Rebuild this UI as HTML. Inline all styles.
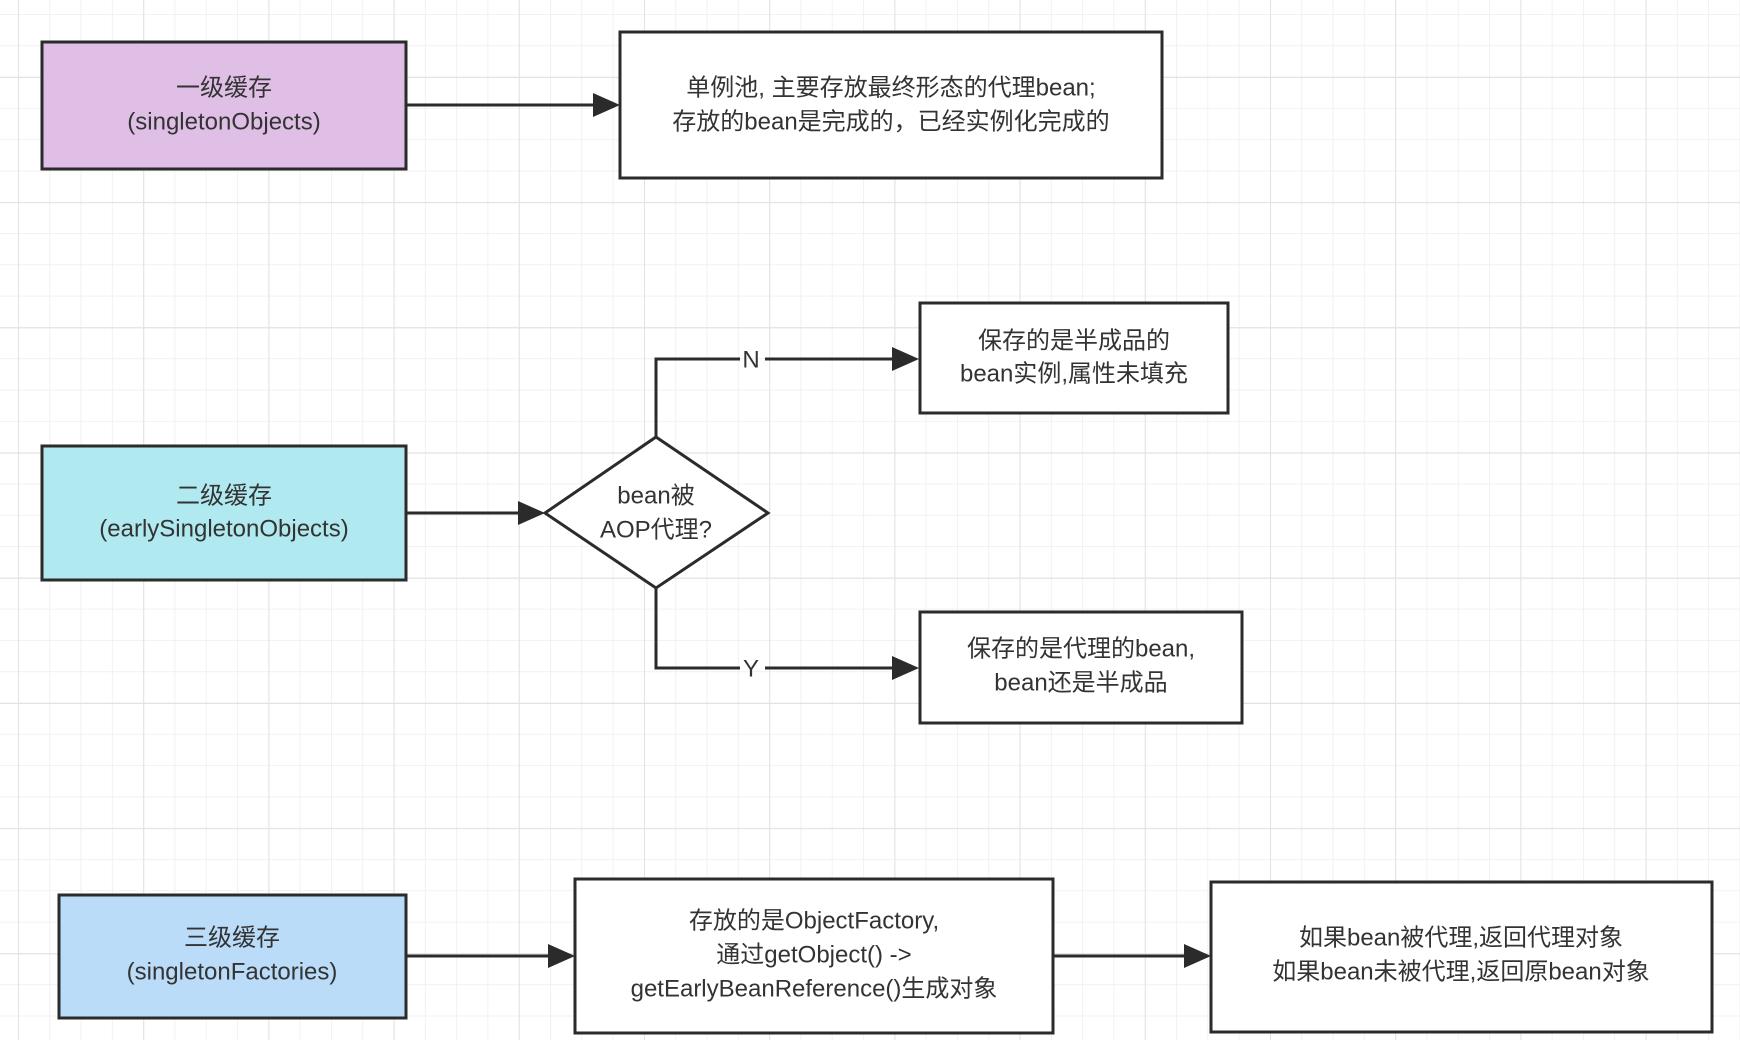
<!DOCTYPE html>
<html><head><meta charset="utf-8"><style>
html,body{margin:0;padding:0;background:#fff}
svg{display:block}
text{font-family:"Liberation Sans","Noto Sans CJK SC",sans-serif;font-size:24px;fill:#333;text-anchor:middle;dominant-baseline:central}
</style></head><body>
<svg width="1740" height="1040" viewBox="0 0 1740 1040" xmlns="http://www.w3.org/2000/svg">
<defs>
<pattern id="g" x="18" y="14" width="31.3" height="31.3" patternUnits="userSpaceOnUse">
<path d="M0 0H31.3M0 0V31.3" stroke="#ededed" stroke-width="1.5" fill="none"/>
</pattern>
<pattern id="G" x="18" y="77" width="125.2" height="125.2" patternUnits="userSpaceOnUse">
<path d="M0 0H125.2M0 0V125.2" stroke="#e2e2e2" stroke-width="2" fill="none"/>
</pattern>
<marker id="a" markerWidth="10" markerHeight="10" refX="9" refY="5" orient="auto" markerUnits="userSpaceOnUse" viewBox="0 0 10 10">
</marker>
</defs>
<rect width="1740" height="1040" fill="url(#g)"/>
<rect width="1740" height="1040" fill="url(#G)"/>
<g stroke="#2b2b2b" stroke-width="3" fill="none">
<path d="M406 105H595"/>
<path d="M406 513H520"/>
<path d="M656 437V359H740M765 359H892"/>
<path d="M656 588V668H740M765 668H892"/>
<path d="M406 956H548"/>
<path d="M1053 956H1184"/>
</g>
<g fill="#2b2b2b">
<polygon points="620,105 593,93 593,117"/>
<polygon points="545,513 518,501 518,525"/>
<polygon points="919,359 892,347 892,371"/>
<polygon points="919,668 892,656 892,680"/>
<polygon points="575,956 548,944 548,968"/>
<polygon points="1211,956 1184,944 1184,968"/>
</g>
<g stroke="#2b2b2b" stroke-width="3">
<rect x="42" y="42" width="364" height="127" fill="#dfbfe6"/>
<rect x="620" y="32" width="542" height="146" fill="#fff"/>
<rect x="42" y="446" width="364" height="134" fill="#b0e9ef"/>
<polygon points="656,437 768,513 656,588 545,513" fill="#fff"/>
<rect x="920" y="303" width="308" height="110" fill="#fff"/>
<rect x="920" y="612" width="322" height="111" fill="#fff"/>
<rect x="59" y="895" width="347" height="123" fill="#badcf8"/>
<rect x="575" y="879" width="478" height="154" fill="#fff"/>
<rect x="1211" y="882" width="501" height="150" fill="#fff"/>
</g>
<text x="224" y="88">一级缓存</text>
<text x="224" y="122">(singletonObjects)</text>
<text x="891" y="88">单例池, 主要存放最终形态的代理bean;</text>
<text x="891" y="122">存放的bean是完成的，已经实例化完成的</text>
<text x="224" y="496">二级缓存</text>
<text x="224" y="529">(earlySingletonObjects)</text>
<text x="656" y="496">bean被</text>
<text x="656" y="530">AOP代理?</text>
<text x="751" y="360">N</text>
<text x="751" y="669">Y</text>
<text x="1074" y="341">保存的是半成品的</text>
<text x="1074" y="374">bean实例,属性未填充</text>
<text x="1081" y="649">保存的是代理的bean,</text>
<text x="1081" y="683">bean还是半成品</text>
<text x="232" y="938">三级缓存</text>
<text x="232" y="972">(singletonFactories)</text>
<text x="814" y="921">存放的是ObjectFactory,</text>
<text x="814" y="955">通过getObject() -&gt;</text>
<text x="814" y="989">getEarlyBeanReference()生成对象</text>
<text x="1461" y="938">如果bean被代理,返回代理对象</text>
<text x="1461" y="972">如果bean未被代理,返回原bean对象</text>
</svg>
</body></html>
